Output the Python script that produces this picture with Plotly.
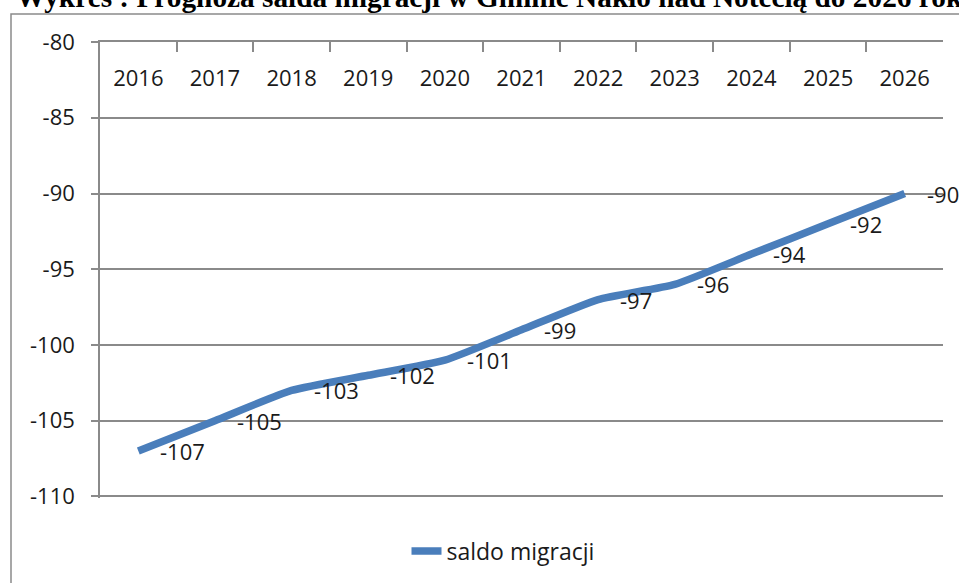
import plotly.graph_objects as go

years = ["2016", "2017", "2018", "2019", "2020", "2021", "2022", "2023", "2024", "2025", "2026"]
saldo = [-107, -105, -103, -102, -101, -99, -97, -96, -94, -92, -90]
y_ticks = [-80, -85, -90, -95, -100, -105, -110]
y_tick_labels = ["-80", "-85", "-90", "-95", "-100", "-105", "-110"]
series_name = "saldo migracji"
title_text = "Wykres : Prognoza salda migracji w Gminie Nakło nad Notecią do 2026 roku"

W, H = 959, 583
L, R, T, B = 100, 16, 42, 85
pw, ph = W - L - R, H - T - B

def px_x(X):
    return (X - L) / pw

def px_y(Y):
    return (H - B - Y) / ph

FONT = "Open Sans"
GRAY = "#8a8a8a"
BLUE = "#4A7EBB"
TXT = "#1a1a1a"

fig = go.Figure()
fig.add_trace(go.Scatter(
    x=years, y=saldo, mode="lines", name=series_name,
    line=dict(color=BLUE, width=7.5, shape="spline", smoothing=0.5),
    showlegend=True,
))
# carrier trace for the category label axis (invisible)
fig.add_trace(go.Scatter(
    x=years, y=saldo, xaxis="x2", mode="lines", line=dict(width=0),
    showlegend=False, hoverinfo="skip", opacity=0,
))

for i, v in enumerate(saldo):
    fig.add_annotation(x=i, y=v, xref="x", yref="y", text=str(v), showarrow=False,
                       xanchor="left", yanchor="middle", xshift=20, yshift=0,
                       font=dict(family=FONT, size=22, color=TXT))

fig.add_annotation(xref="paper", yref="paper", x=px_x(14), y=px_y(15),
                   xanchor="left", yanchor="bottom", showarrow=False,
                   text="<b>" + title_text + "</b>",
                   font=dict(family="Liberation Serif", size=29.3, color="#000000"))

fig.add_shape(type="rect", xref="paper", yref="paper",
              x0=px_x(11), x1=px_x(980), y0=px_y(600), y1=px_y(14),
              line=dict(color=GRAY, width=1.5), layer="below")

fig.update_layout(
    width=W, height=H,
    margin=dict(l=L, r=R, t=T, b=B, autoexpand=False),
    paper_bgcolor="white", plot_bgcolor="white",
    font=dict(family=FONT, size=22, color=TXT),
    showlegend=True,
    legend=dict(orientation="h", x=px_x(503), y=px_y(551), xanchor="center", yanchor="middle",
                font=dict(family=FONT, size=23, color=TXT), bgcolor="rgba(0,0,0,0)"),
    xaxis=dict(type="category", side="top", range=[-0.5, 10.5], automargin=False,
               showline=True, linecolor=GRAY, linewidth=1.5,
               ticks="inside", ticklen=10, tickcolor=GRAY, tickwidth=1.5,
               tickson="boundaries", showticklabels=False,
               showgrid=False, zeroline=False),
    xaxis2=dict(type="category", overlaying="x", side="top", anchor="free",
                position=px_y(90), range=[-0.5, 10.5], automargin=False,
                showline=False, ticks="", showgrid=False, zeroline=False,
                tickfont=dict(family=FONT, size=22, color=TXT)),
    yaxis=dict(range=[-110.1, -80], automargin=False,
               tickmode="array", tickvals=y_ticks, ticktext=y_tick_labels,
               showline=True, linecolor=GRAY, linewidth=1.5,
               ticks="outside", ticklen=7, tickcolor=GRAY, tickwidth=1.5,
               showgrid=True, gridcolor=GRAY, gridwidth=1.5,
               zeroline=False, ticklabelstandoff=12,
               tickfont=dict(family=FONT, size=22, color=TXT)),
)

fig.write_html("out.html", config={"displayModeBar": False},
               post_script="document.body.style.margin='0';")
